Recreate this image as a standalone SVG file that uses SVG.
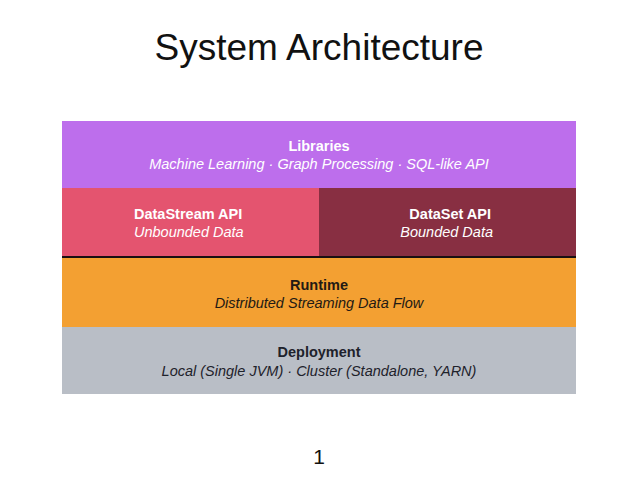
<svg xmlns="http://www.w3.org/2000/svg" width="638" height="479" viewBox="0 0 638 479">
<style>
text{font-family:Arial,"Liberation Sans",Helvetica,sans-serif;}
.b{font-weight:bold;font-size:14.5px;}
.i{font-style:italic;font-size:14.5px;}
.w{fill:#ffffff;}
.d{fill:#231a14;}
.g{fill:#1e222b;}
</style>
<rect width="638" height="479" fill="#ffffff"/>
<text x="319" y="60" font-size="37" text-anchor="middle" fill="#111111">System Architecture</text>
<g id="libraries">
<rect x="62" y="121" width="514" height="67" fill="#bd6eec"/>
<text class="b w" x="319" y="151" text-anchor="middle">Libraries</text>
<text class="i w" x="319" y="169" text-anchor="middle">Machine Learning · Graph Processing · SQL-like API</text>
</g>
<g id="datastream">
<rect x="62" y="188" width="257" height="68" fill="#e4546f"/>
<text class="b w" x="134" y="219">DataStream API</text>
<text class="i w" x="134" y="237">Unbounded Data</text>
</g>
<g id="dataset">
<rect x="319" y="188" width="257" height="68" fill="#882f42"/>
<text class="b w" x="491" y="219" text-anchor="end">DataSet API</text>
<text class="i w" x="493" y="237" text-anchor="end">Bounded Data</text>
</g>
<g id="connectors">
<rect x="62" y="256" width="514" height="2" fill="#1a1012"/>
</g>
<g id="runtime">
<rect x="62" y="258" width="514" height="69" fill="#f3a032"/>
<text class="b d" x="319" y="290" text-anchor="middle">Runtime</text>
<text class="i d" x="319" y="308" text-anchor="middle">Distributed Streaming Data Flow</text>
</g>
<g id="deployment">
<rect x="62" y="327" width="514" height="67" fill="#b9bec6"/>
<text class="b g" x="319" y="357" text-anchor="middle">Deployment</text>
<text class="i g" x="319" y="376" text-anchor="middle">Local (Single JVM) · Cluster (Standalone, YARN)</text>
</g>
<text x="319" y="464" font-size="21" text-anchor="middle" fill="#111111">1</text>
</svg>
